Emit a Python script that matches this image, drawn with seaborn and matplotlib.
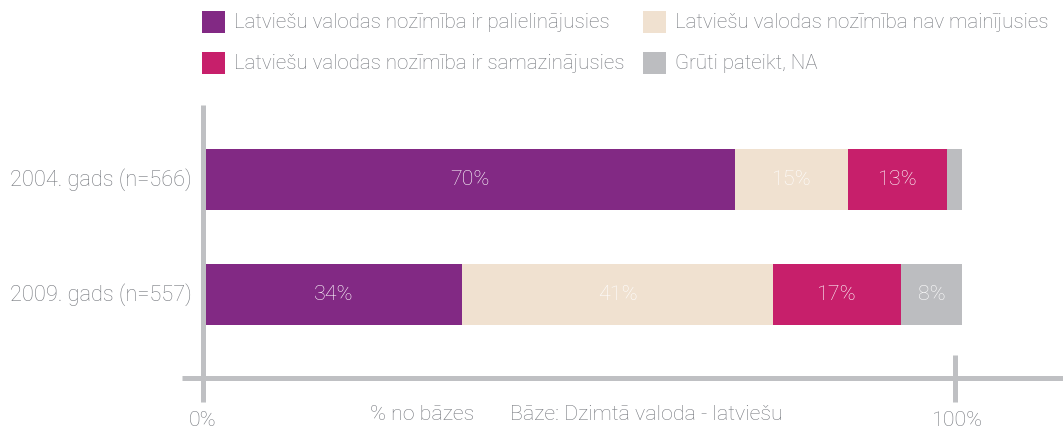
import numpy as np
import pandas as pd
import matplotlib
matplotlib.use("Agg")
import matplotlib.pyplot as plt
import seaborn as sns
from matplotlib.patches import Rectangle

# ---- data ----
categories = ["2004. gads (n=566)", "2009. gads (n=557)"]
series_names = [
    "Latviešu valodas nozīmība ir palielinājusies",
    "Latviešu valodas nozīmība nav mainījusies",
    "Latviešu valodas nozīmība ir samazinājusies",
    "Grūti pateikt, NA",
]
palielinajusies = [70, 34]
nav_mainijusies = [15, 41]
samazinajusies = [13, 17]
gruti_pateikt = [2, 8]
colors = ["#822984", "#f0e1d0", "#c71f6b", "#bcbdc0"]
axis_labels = ["0%", "100%"]
note_left = "% no bāzes"
note_right = "Bāze: Dzimtā valoda - latviešu"

sns.set_style("white")
plt.rcParams["font.family"] = ["Roboto", "DejaVu Sans"]
TXT = "#74777d"
AXC = "#bfc0c3"
FS = 15.4
FS_CAT = 15.7
FS_LEG = 14.8
FW = "light"

W, H = 1063, 430
fig = plt.figure(figsize=(W / 100, H / 100), dpi=100)
ax = fig.add_axes([0, 0, 1, 1])

# pixel -> data helpers (layout only)
X0, SX = 205.0, 7.57
Y0, SY = 179.5, 115.0
def xd(px):
    return (px - X0) / SX
def yd(py):
    return (py - Y0) / SY

values = np.array([palielinajusies, nav_mainijusies, samazinajusies, gruti_pateikt], dtype=float)
cum = values.cumsum(axis=0)

# stacked bars: draw cumulative totals from largest to smallest
for i in range(len(series_names) - 1, -1, -1):
    df = pd.DataFrame({"cat": categories, "val": cum[i]})
    sns.barplot(data=df, y="cat", x="val", orient="h", color=colors[i],
                saturation=1, width=0.53, ax=ax, linewidth=0)

ax.set_xlim(xd(0), xd(W))
ax.set_ylim(yd(H), yd(0))
ax.axis("off")

# segment labels
for j in range(len(categories)):
    for i in range(len(series_names)):
        v = values[i, j]
        if v < 5:
            continue
        center = cum[i, j] - v / 2
        ax.text(center, j, f"{int(v)}%", ha="center", va="center",
                color="white", fontsize=FS, fontweight=FW)

# category labels
for j, c in enumerate(categories):
    ax.text(xd(192), j, c, ha="right", va="center", color=TXT,
            fontsize=FS_CAT, fontweight=FW)

# axis lines
lw = 3.6
ax.plot([xd(203), xd(203)], [yd(105), yd(402)], color=AXC, lw=lw, solid_capstyle="butt")
ax.plot([xd(182), xd(W)], [yd(378), yd(378)], color=AXC, lw=lw, solid_capstyle="butt")
ax.plot([xd(955), xd(955)], [yd(355), yd(402)], color=AXC, lw=lw, solid_capstyle="butt")

ax.text(xd(203), yd(420), axis_labels[0], ha="center", va="center", color=TXT,
        fontsize=FS, fontweight=FW)
ax.text(xd(958), yd(420), axis_labels[1], ha="center", va="center", color=TXT,
        fontsize=FS, fontweight=FW)
ax.text(xd(370), yd(414), note_left, ha="left", va="center", color=TXT,
        fontsize=FS, fontweight=FW)
ax.text(xd(510), yd(414), note_right, ha="left", va="center", color=TXT,
        fontsize=FS, fontweight=FW)

# legend (2 columns, row-wise)
leg_pos = [(202, 22), (643, 22), (202, 63), (643, 63)]
for k, i in enumerate(range(len(series_names))):
    px, py = leg_pos[k]
    ax.add_patch(Rectangle((xd(px), yd(py + 11)), 23 / SX, -22 / SY,
                           color=colors[i], lw=0))
    ax.text(xd(px + 32), yd(py), series_names[i], ha="left", va="center",
            color=TXT, fontsize=FS_LEG, fontweight=FW)

fig.savefig("out.png", dpi=100)
